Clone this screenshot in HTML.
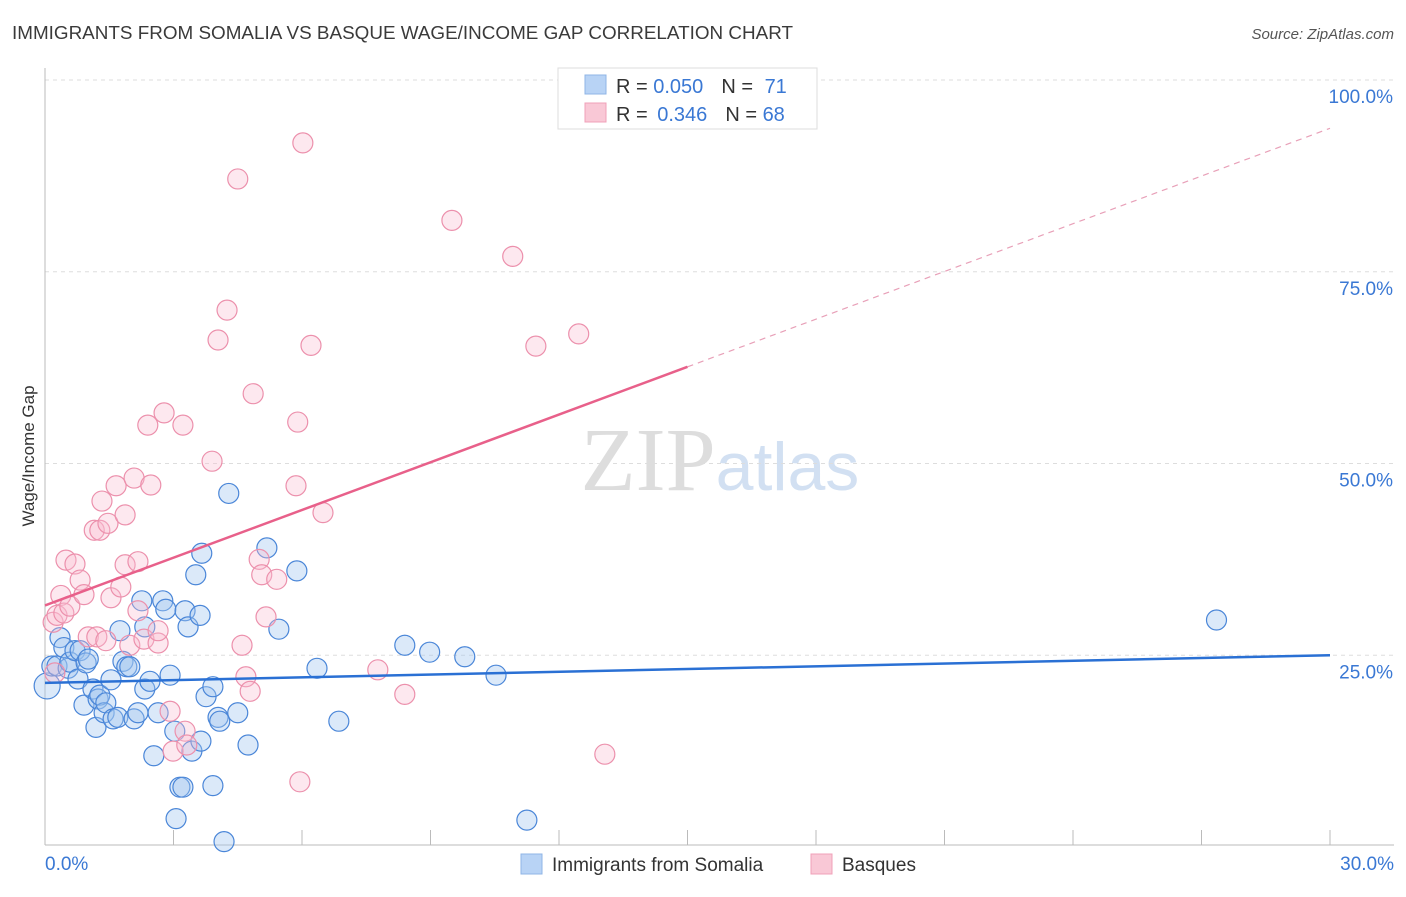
<!DOCTYPE html>
<html><head><meta charset="utf-8"><style>
body{margin:0;background:#fff;font-family:"Liberation Sans",sans-serif}
</style></head><body>
<svg id="chart" width="1406" height="892" xmlns="http://www.w3.org/2000/svg" font-family="Liberation Sans, sans-serif">
<text x="12" y="39" font-size="18" fill="#3a3a3a" textLength="781" lengthAdjust="spacingAndGlyphs">IMMIGRANTS FROM SOMALIA VS BASQUE WAGE/INCOME GAP CORRELATION CHART</text>
<text x="1394" y="39" font-size="15" fill="#555" font-style="italic" text-anchor="end">Source: ZipAtlas.com</text>
<text x="720" y="490" font-size="90" text-anchor="middle"><tspan fill="#ddd" font-family="Liberation Serif, serif">ZIP</tspan><tspan fill="#d2e0f2" font-size="68">atlas</tspan></text>
<g id="grid"></g>
<g id="axes"></g>
<g id="marks"></g>
<text transform="translate(34,456) rotate(-90)" font-size="17" fill="#333" text-anchor="middle">Wage/Income Gap</text>
<g>
<rect x="558" y="68" width="259" height="61" fill="#fff" stroke="#ddd"/>
<rect x="585" y="75" width="21" height="19" fill="#b8d3f5" stroke="#8fb4e6"/>
<rect x="585" y="103" width="21" height="19" fill="#f9c8d6" stroke="#f0a0b8"/>
<text x="616" y="93" font-size="20" fill="#333">R = <tspan fill="#3a78d4">0.050</tspan><tspan dx="18" fill="#333">N = </tspan><tspan fill="#3a78d4" dx="6">71</tspan></text>
<text x="616" y="121" font-size="20" fill="#333">R = <tspan fill="#3a78d4" dx="4">0.346</tspan><tspan dx="18" fill="#333">N = </tspan><tspan fill="#3a78d4">68</tspan></text>
</g>
<g>
<rect x="521" y="854" width="21" height="20" fill="#b8d3f5" stroke="#8fb4e6"/>
<text x="552" y="871" font-size="19" fill="#333">Immigrants from Somalia</text>
<rect x="811" y="854" width="21" height="20" fill="#f9c8d6" stroke="#f0a0b8"/>
<text x="842" y="871" font-size="19" fill="#333">Basques</text>
</g>
</svg>
<script>
const xTicks=[0,3,6,9,12,15,18,21,24,27,30];
const yTicks=[25,50,75,100];
const yTickLabels=["25.0%","50.0%","75.0%","100.0%"];
const blueX=[0.05,0.16,0.28,0.35,0.44,0.54,0.58,0.7,0.77,0.82,0.91,0.96,1.01,1.12,1.19,1.24,1.28,1.38,1.42,1.54,1.59,1.7,1.75,1.82,1.91,1.98,2.08,2.17,2.26,2.33,2.33,2.45,2.54,2.64,2.75,2.82,2.92,3.03,3.15,3.22,3.06,3.27,3.34,3.43,3.52,3.62,3.64,3.66,3.76,3.92,3.92,4.04,4.08,4.18,4.29,4.5,4.74,5.18,5.46,5.88,6.35,6.86,8.4,8.98,9.8,10.53,11.25,27.35];
const blueY=[21,23.6,23.6,27.3,26,23.3,24.1,25.6,21.9,25.6,18.5,24,24.5,20.6,15.6,19.3,19.8,17.5,18.8,21.8,16.7,16.9,28.2,24.2,23.5,23.5,16.7,17.5,32.1,28.7,20.6,21.6,11.9,17.5,32.1,31,22.4,15.1,7.8,7.8,3.7,30.8,28.7,12.5,35.5,30.2,13.8,38.3,19.6,8,20.9,16.9,16.4,0.7,46.1,17.5,13.3,39,28.4,36,23.3,16.4,26.3,25.4,24.8,22.4,3.5,29.6];
const pinkX=[0.19,0.23,0.28,0.37,0.44,0.49,0.58,0.7,0.82,0.91,1.01,1.15,1.21,1.28,1.33,1.42,1.47,1.54,1.66,1.77,1.87,1.87,1.98,2.08,2.17,2.17,2.31,2.4,2.47,2.64,2.64,2.78,2.92,2.99,3.22,3.27,3.31,3.9,4.04,4.25,4.5,4.6,4.69,4.79,4.86,5,5.06,5.16,5.41,5.9,5.86,5.95,6.02,6.21,6.49,7.77,8.4,9.5,10.92,11.46,12.46,13.07];
const pinkY=[29.3,22.7,30.2,32.8,30.5,37.4,31.4,36.9,34.8,32.9,27.4,41.3,27.4,41.3,45.1,26.9,42.2,32.5,47.1,33.9,43.3,36.8,26.3,48.1,37.2,30.8,27.1,55,47.2,26.6,28.2,56.6,17.7,12.5,55,15.1,13.3,50.3,66.1,70,87.1,26.3,22.2,20.3,59.1,37.5,35.5,30,34.9,55.4,47.1,8.5,91.8,65.4,43.6,23.1,19.9,81.7,77,65.3,66.9,12.1];
const blueFit=[21.4,25.0];const pinkFit=[31.5,93.7];
const NS='http://www.w3.org/2000/svg';
const X0=45,X1=1330,Y0=847,Y100=80;
const sx=v=>X0+(v/30)*(X1-X0);
const sy=v=>Y0-(v/100)*(Y0-Y100);
function mk(t,a,p){const e=document.createElementNS(NS,t);for(const k in a)e.setAttribute(k,a[k]);p.appendChild(e);return e;}
const grid=document.getElementById('grid'),axes=document.getElementById('axes'),marks=document.getElementById('marks');
yTicks.forEach((v,i)=>{
 const l=mk('line',{x1:X0,x2:1394,y1:sy(v),y2:sy(v),stroke:'#ddd','stroke-dasharray':'4,4'},grid);
 
 
 const t=mk('text',{x:1393,y:sy(v)+23,'font-size':19,fill:'#3a78d4','text-anchor':'end'},axes);
 t.textContent=yTickLabels[i];
 
 
});
mk('line',{x1:X0,x2:X0,y1:68,y2:845,stroke:'#bbb'},axes);
mk('line',{x1:X0,x2:1394,y1:845,y2:845,stroke:'#bbb'},axes);
xTicks.forEach((v,i)=>{if(i>0){const l=mk('line',{x1:sx(v),x2:sx(v),y1:830,y2:845,stroke:'#bbb'},axes);
 
 }});
let t0=mk('text',{x:45,y:870,'font-size':19,fill:'#3a78d4'},axes);t0.textContent='0.0%';


let t1=mk('text',{x:1394,y:870,'font-size':19,fill:'#3a78d4','text-anchor':'end'},axes);t1.textContent='30.0%';


blueX.forEach((x,i)=>{const c=mk('circle',{cx:sx(x),cy:sy(blueY[i]),r:i===0?13:10,fill:'rgba(160,196,240,0.38)',stroke:'#4a86d8','stroke-width':1.2},marks);
 
 });
pinkX.forEach((x,i)=>{const c=mk('circle',{cx:sx(x),cy:sy(pinkY[i]),r:10,fill:'rgba(248,190,208,0.35)',stroke:'#ec90ac','stroke-width':1.2},marks);
 
 });
const pm=pinkFit[0]+(pinkFit[1]-pinkFit[0])*(15/30);
let pl=mk('line',{x1:sx(0),y1:sy(pinkFit[0]),x2:sx(15),y2:sy(pm),stroke:'#e8608a','stroke-width':2.5},marks);


let pd=mk('line',{x1:sx(15),y1:sy(pm),x2:sx(30),y2:sy(pinkFit[1]),stroke:'#e8a0b8','stroke-width':1.2,'stroke-dasharray':'6,5'},marks);


let bl=mk('line',{x1:sx(0),y1:sy(blueFit[0]),x2:sx(30),y2:sy(blueFit[1]),stroke:'#2a70d4','stroke-width':2.5},marks);


</script>
</body></html>
